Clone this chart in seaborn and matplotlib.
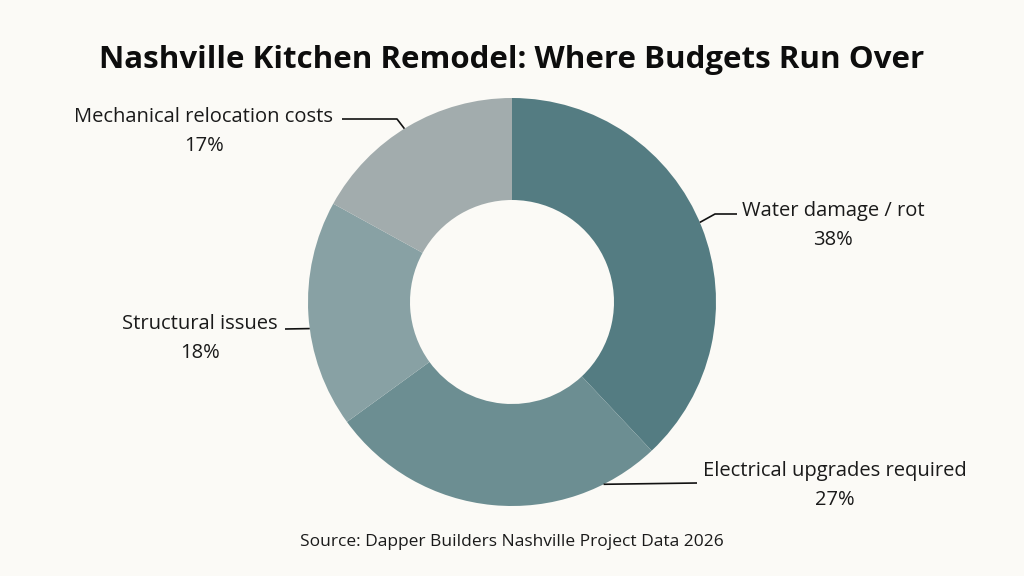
import numpy as np
import matplotlib
matplotlib.use("Agg")
import matplotlib.pyplot as plt
import seaborn as sns

categories = ["Water damage / rot", "Electrical upgrades required", "Structural issues", "Mechanical relocation costs"]
shares = [38, 27, 18, 17]
colors = ["#547c82", "#6c8e92", "#88a1a4", "#a2acad"]

title = "Nashville Kitchen Remodel: Where Budgets Run Over"
source = "Source: Dapper Builders Nashville Project Data 2026"

sns.set_theme(style="white")
plt.rcParams["font.family"] = ["Open Sans", "DejaVu Sans"]

BG = "#fbfaf6"
W, H = 1024, 576
fig = plt.figure(figsize=(10.24, 5.76), dpi=100, facecolor=BG)
ax = fig.add_axes([0, 0, 1, 1])
ax.set_facecolor(BG)

cx, cy, R = 512, H - 302, 204
wedges, _ = ax.pie(shares, colors=colors, startangle=90, counterclock=False,
                   center=(cx, cy), radius=R, frame=True,
                   wedgeprops=dict(width=R * 0.5, linewidth=0))
ax.set_xlim(0, W)
ax.set_ylim(0, H)
ax.set_aspect("equal")
ax.axis("off")

# leader geometry (style): position within wedge (0..1 from its clockwise start), elbow & end in px
anchor_frac = [0.49, 0.17, 0.44, 0.48]
elbows = [(715, 214), None, None, (397, 119)]
ends = [(737, 214), (697, 483), (285, 329), (342, 119)]
text_pos = [(833, 225.5), (835, 485.5), (200, 338.5), (204, 131.5)]

for i, (w, cat, val) in enumerate(zip(wedges, categories, shares)):
    t1, t2 = w.theta1, w.theta2
    ang = np.deg2rad(t2 - anchor_frac[i] * (t2 - t1))
    pts = [(cx + R * np.cos(ang), cy + R * np.sin(ang))]
    if elbows[i] is not None:
        pts.append((elbows[i][0], H - elbows[i][1]))
    pts.append((ends[i][0], H - ends[i][1]))
    xs, ys = zip(*pts)
    ax.plot(xs, ys, color="#111111", lw=1.2, solid_capstyle="butt")
    tx, ty = text_pos[i]
    ax.text(tx, H - ty, f"{cat}\n{val}%", ha="center", va="center",
            fontsize=14.5, color="#1a1a1a", linespacing=1.58)

ax.text(512, H - 60, title, ha="center", va="center", fontsize=22.5,
        fontweight="bold", color="#0d0d0d")
ax.text(512, H - 542, source, ha="center", va="center", fontsize=12.5,
        color="#1a1a1a")

fig.savefig("out.png", dpi=100, facecolor=BG)
